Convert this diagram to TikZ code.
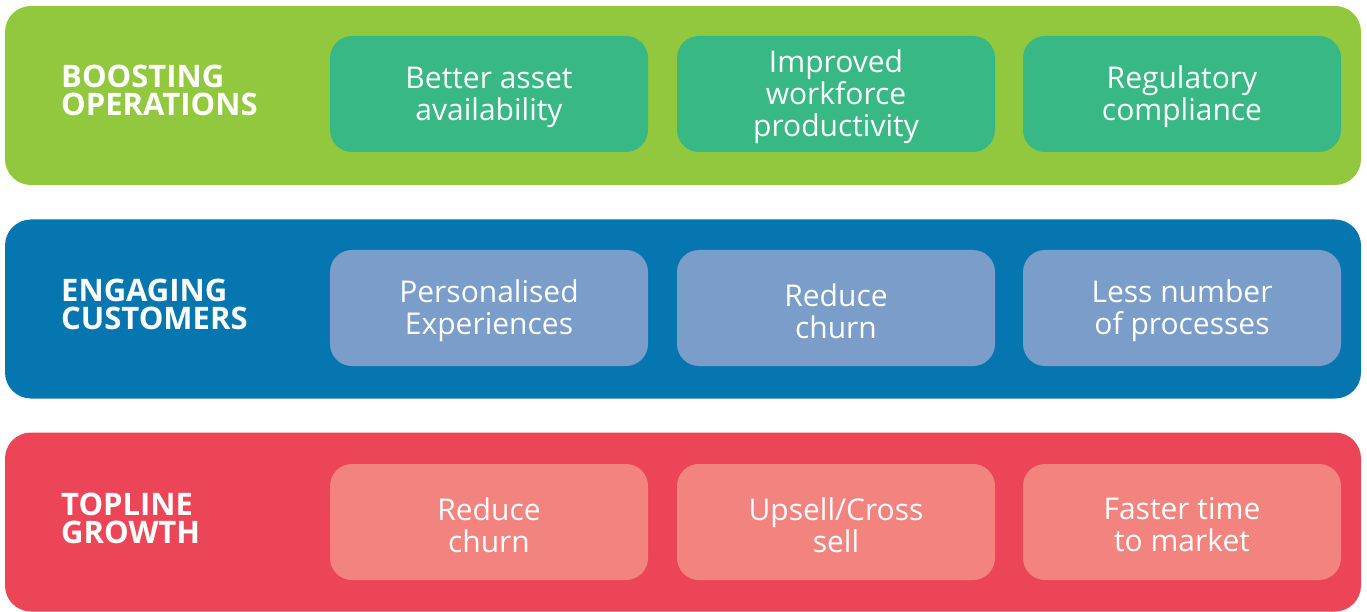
\documentclass[tikz,border=0pt]{standalone}
\usepackage{fontspec}
\setmainfont{Open Sans}
\definecolor{gband}{HTML}{92C83E}
\definecolor{gbox}{HTML}{38B885}
\definecolor{bband}{HTML}{0676B0}
\definecolor{bbox}{HTML}{7A9DC9}
\definecolor{rband}{HTML}{EC4558}
\definecolor{rbox}{HTML}{F2837E}
\begin{document}
\begin{tikzpicture}[x=1pt,y=-1pt,
  band/.style={rounded corners=26pt, minimum width=1356pt, minimum height=179pt, inner sep=0pt},
  item/.style={rounded corners=22pt, minimum width=318pt, minimum height=116pt, inner sep=0pt},
  itemtext/.style={text=white, align=center, inner sep=0pt, font=\fontsize{30}{32}\selectfont},
  title/.style={anchor=west, text=white, align=left, inner sep=0pt,
    font=\bfseries\fontsize{31}{28}\selectfont}]
\useasboundingbox (0,0) rectangle (1367,612);
% bands
\node[band, fill=gband] (b1) at (683,95.5) {};
\node[band, fill=bband] (b2) at (683,309) {};
\node[band, fill=rband] (b3) at (683,522) {};
% titles
\node[title] (t1) at (61,90) {BOOSTING\\OPERATIONS};
\node[title] (t2) at (61,304) {ENGAGING\\CUSTOMERS};
\node[title] (t3) at (61,518) {TOPLINE\\GROWTH};
% item boxes
\node[item, fill=gbox] (g1) at (489,94) {};
\node[item, fill=gbox] (g2) at (836,94) {};
\node[item, fill=gbox] (g3) at (1182,94) {};
\node[item, fill=bbox] (e1) at (489,308) {};
\node[item, fill=bbox] (e2) at (836,308) {};
\node[item, fill=bbox] (e3) at (1182,308) {};
\node[item, fill=rbox] (r1) at (489,522) {};
\node[item, fill=rbox] (r2) at (836,522) {};
\node[item, fill=rbox] (r3) at (1182,522) {};
% item texts
\node[itemtext] (g1t) at ([yshift=-3pt]g1.center) {Better asset\\availability};
\node[itemtext] (g2t) at ([yshift=-3pt]g2.center) {Improved\\workforce\\productivity};
\node[itemtext] (g3t) at ([yshift=-3pt]g3.center) {Regulatory\\compliance};
\node[itemtext] (e1t) at ([yshift=-3pt]e1.center) {Personalised\\Experiences};
\node[itemtext] (e2t) at ([yshift=-3pt]e2.center) {Reduce\\churn};
\node[itemtext] (e3t) at ([yshift=-3pt]e3.center) {Less number\\of processes};
\node[itemtext] (r1t) at ([yshift=-3pt]r1.center) {Reduce\\churn};
\node[itemtext] (r2t) at ([yshift=-3pt]r2.center) {Upsell/Cross\\sell};
\node[itemtext] (r3t) at ([yshift=-3pt]r3.center) {Faster time\\to market};
\end{tikzpicture}
\end{document}
